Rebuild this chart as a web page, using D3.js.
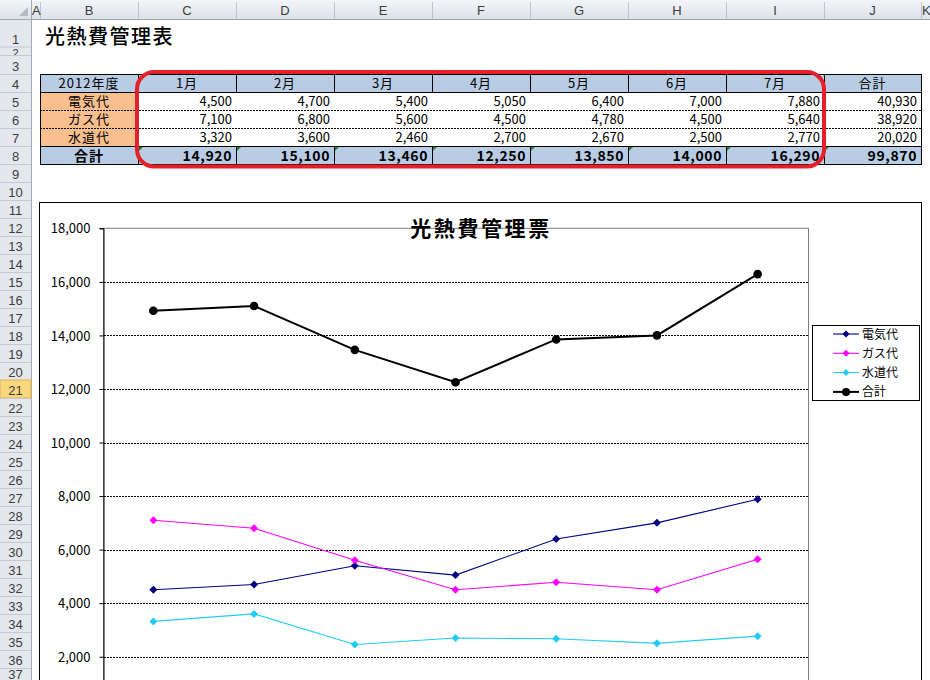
<!DOCTYPE html>
<html><head><meta charset="utf-8">
<script src="https://cdn.jsdelivr.net/npm/d3@7"></script>
<style>
html,body{margin:0;padding:0;background:#fff;}
svg{display:block;font-family:"Noto Sans CJK JP","Noto Sans",sans-serif;}
</style></head>
<body>
<svg id="c" width="930" height="680"></svg>
<script>
// ---------- data ----------
const colLetters = ["A","B","C","D","E","F","G","H","I","J","K"];
const months = ["1月","2月","3月","4月","5月","6月","7月"];
const yearLabel = "2012年度";
const rowLabels = ["電気代","ガス代","水道代"];
const electricity = [4500,4700,5400,5050,6400,7000,7880];
const gas = [7100,6800,5600,4500,4780,4500,5640];
const water = [3320,3600,2460,2700,2670,2500,2770];
const totals = [14920,15100,13460,12250,13850,14000,16290];
const rowTotals = [40930,38920,20020];
const grandTotal = 99870;
const totalLabel = "合計";
const sheetTitle = "光熱費管理表";
const chartTitle = "光熱費管理票";
const yTicks = [2000,4000,6000,8000,10000,12000,14000,16000,18000];
const seriesNames = ["電気代","ガス代","水道代","合計"];
const seriesColors = ["#000080","#FF00FF","#22CCF2","#000000"];

const fmt = d3.format(",");
const svg = d3.select("#c");
const defs = svg.append("defs");

// ---------- sheet geometry ----------
const colEdges = [31,40,138,236,334,432,530,628,726,824,921,940];
const rowTops = [19,46.5,55,74];
for (let r=4; r<=38; r++) rowTops.push(74+(r-3)*18);
function rTop(r){return rowTops[r-1];}
function rBot(r){return rowTops[r];}

svg.append("rect").attr("x",0).attr("y",0).attr("width",930).attr("height",680).attr("fill","#fff");

const hdrGrad = defs.append("linearGradient").attr("id","hg").attr("x1",0).attr("y1",0).attr("x2",0).attr("y2",1);
hdrGrad.append("stop").attr("offset","0").attr("stop-color","#F3F5F8");
hdrGrad.append("stop").attr("offset","1").attr("stop-color","#DDE2E8");
svg.append("rect").attr("x",0).attr("y",0).attr("width",930).attr("height",19).attr("fill","url(#hg)");
svg.append("rect").attr("x",0).attr("y",19).attr("width",31).attr("height",680).attr("fill","#E4E8ED");
svg.append("path").attr("d","M19,16 L28,16 L28,7 Z").attr("fill","#B5BBC4");
colLetters.forEach((c,i)=>{
  const x0=colEdges[i], x1=colEdges[i+1];
  svg.append("line").attr("x1",x1+0.5).attr("x2",x1+0.5).attr("y1",2).attr("y2",19).attr("stroke","#BCC4CF");
  svg.append("text").attr("x", (i===0||i===10) ? x0+1 : (x0+x1)/2).attr("y",15)
    .attr("text-anchor", (i===0||i===10)?"start":"middle")
    .attr("font-size",13).attr("fill","#3C3C3C").attr("font-family","Liberation Sans, sans-serif").text(c);
});
svg.append("line").attr("x1",0).attr("x2",930).attr("y1",19.5).attr("y2",19.5).attr("stroke","#9EAAB8");
svg.append("line").attr("x1",31.5).attr("x2",31.5).attr("y1",0).attr("y2",680).attr("stroke","#9EAAB8");
defs.append("clipPath").attr("id","r2clip").append("rect").attr("x",0).attr("y",rTop(2)+1).attr("width",31).attr("height",rBot(2)-rTop(2)-1);
for (let r=1; r<=37; r++){
  const t=rTop(r), b=rBot(r);
  if (r===21){
    svg.append("rect").attr("x",0).attr("y",t).attr("width",31).attr("height",b-t).attr("fill","#F9D77E").attr("stroke","#E5B04C");
  }
  svg.append("line").attr("x1",0).attr("x2",31).attr("y1",b+0.5).attr("y2",b+0.5).attr("stroke","#C2CAD4");
  const tx = svg.append("text").attr("x",15.5).attr("y", r===2 ? b+1.5 : Math.min(b-3, 679)).attr("text-anchor","middle")
    .attr("font-size", r===2 ? 11 : 13).attr("fill","#3C3C3C").attr("font-family","Liberation Sans, sans-serif")
    .text(r);
  if (r===2) tx.attr("clip-path","url(#r2clip)");
}

svg.append("text").attr("x",45).attr("y",44).attr("font-size",20).attr("font-weight",500).attr("letter-spacing",1.5).attr("fill","#000").text(sheetTitle);

// ---------- table ----------
const tbl = svg.append("g");
const cx = i => colEdges[i];
const blue = "#B8CCE4", orange = "#FABF8F";
tbl.append("rect").attr("x",cx(1)).attr("y",rTop(4)).attr("width",cx(10)-cx(1)).attr("height",18).attr("fill",blue);
tbl.append("rect").attr("x",cx(1)).attr("y",rTop(8)).attr("width",cx(10)-cx(1)).attr("height",18).attr("fill",blue);
tbl.append("rect").attr("x",cx(1)).attr("y",rTop(5)).attr("width",cx(2)-cx(1)).attr("height",54).attr("fill",orange);

const headers = [yearLabel].concat(months).concat([totalLabel]);
headers.forEach((h,i)=>{
  tbl.append("text").attr("x",(cx(i+1)+cx(i+2))/2).attr("y",rBot(4)-4).attr("text-anchor","middle")
    .attr("font-size",13).attr("letter-spacing",1).text(h);
});
const seriesRows = [electricity,gas,water];
seriesRows.forEach((vals,ri)=>{
  const r = 5+ri;
  tbl.append("text").attr("x",(cx(1)+cx(2))/2).attr("y",rBot(r)-4).attr("text-anchor","middle").attr("font-size",13).attr("letter-spacing",1).text(rowLabels[ri]);
  vals.forEach((v,j)=>{
    tbl.append("text").attr("x",cx(j+3)-4).attr("y",rBot(r)-4).attr("text-anchor","end").attr("font-size",13).text(fmt(v));
  });
  tbl.append("text").attr("x",cx(10)-4).attr("y",rBot(r)-4).attr("text-anchor","end").attr("font-size",13).text(fmt(rowTotals[ri]));
});
tbl.append("text").attr("x",(cx(1)+cx(2))/2).attr("y",rBot(8)-3).attr("text-anchor","middle").attr("font-size",14).attr("font-weight","bold").attr("letter-spacing",1).text(totalLabel);
totals.concat([grandTotal]).forEach((v,j)=>{
  tbl.append("text").attr("x",cx(j+3)-4).attr("y",rBot(8)-3).attr("text-anchor","end").attr("font-size",14).attr("font-weight","bold").attr("letter-spacing",0.6).text(fmt(v));
  tbl.append("path").attr("d",`M${cx(j+2)+1},${rTop(8)+1} l4,0 l-4,4 Z`).attr("fill","#1E8A2E");
});
const bk = "#000";
tbl.append("rect").attr("x",cx(1)+0.5).attr("y",rTop(4)+0.5).attr("width",cx(10)-cx(1)).attr("height",90).attr("fill","none").attr("stroke",bk);
[rBot(4), rBot(7)].forEach(y=>tbl.append("line").attr("x1",cx(1)).attr("x2",cx(10)).attr("y1",y+0.5).attr("y2",y+0.5).attr("stroke",bk));
[rBot(5), rBot(6)].forEach(y=>tbl.append("line").attr("x1",cx(1)).attr("x2",cx(10)).attr("y1",y+0.5).attr("y2",y+0.5).attr("stroke",bk).attr("stroke-dasharray","2,1"));
for (let i=2;i<=9;i++){
  [4,8].forEach(r=>tbl.append("line").attr("x1",cx(i)+0.5).attr("x2",cx(i)+0.5).attr("y1",rTop(r)).attr("y2",rBot(r)).attr("stroke",bk));
}
[2,9].forEach(i=>tbl.append("line").attr("x1",cx(i)+0.5).attr("x2",cx(i)+0.5).attr("y1",rTop(4)).attr("y2",rBot(8)).attr("stroke",bk));
tbl.append("rect").attr("x",137).attr("y",72).attr("width",687).attr("height",94.5).attr("rx",17).attr("ry",17)
  .attr("fill","none").attr("stroke","#E4202A").attr("stroke-width",4);

// ---------- chart ----------
const chart = svg.append("g");
chart.append("rect").attr("x",39.5).attr("y",202.5).attr("width",882).attr("height",520).attr("fill","#fff").attr("stroke","#000");

const x = d3.scaleBand().domain(months).range([103,808]);
const y = d3.scaleLinear().domain([0,18000]).range([710.3,228.3]);

chart.append("rect").attr("x",103.5).attr("y",y(18000)).attr("width",705).attr("height",y(0)-y(18000)).attr("fill","none").attr("stroke","#808080");
chart.append("g").selectAll("line").data(yTicks.filter(t=>t<18000)).join("line")
  .attr("x1",104).attr("x2",808).attr("y1",d=>Math.round(y(d))+0.5).attr("y2",d=>Math.round(y(d))+0.5)
  .attr("stroke","#000").attr("stroke-dasharray","2,1");
const yAxis = d3.axisLeft(y).tickValues(yTicks).tickSize(4).tickPadding(9).tickFormat(fmt);
const ag = chart.append("g").attr("transform","translate(103.5,0)").call(yAxis);
ag.select(".domain").attr("stroke","#000");
ag.selectAll(".tick line").attr("stroke","#000");
ag.selectAll(".tick text").attr("font-size",13).attr("fill","#000").attr("font-family","Noto Sans CJK JP, sans-serif").attr("dy","0.36em");
chart.append("text").attr("x",481).attr("y",236).attr("text-anchor","middle").attr("font-size",21).attr("font-weight","bold").attr("letter-spacing",2.6).text(chartTitle);

const allSeries = [electricity,gas,water,totals];
const line = d3.line().x((d,i)=>x(months[i])+x.bandwidth()/2).y(d=>y(d));
const diamondPath = "M0,-4L4,0L0,4L-4,0Z";
allSeries.forEach((vals,si)=>{
  const col = seriesColors[si];
  chart.append("path").datum(vals).attr("d",line).attr("fill","none").attr("stroke",col).attr("stroke-width", si===3?2:1.1);
  const g = chart.append("g");
  vals.forEach((v,i)=>{
    const px = x(months[i])+x.bandwidth()/2, py = y(v);
    if (si===3) g.append("circle").attr("cx",px).attr("cy",py).attr("r",4.3).attr("fill",col);
    else g.append("path").attr("d",diamondPath).attr("transform",`translate(${px},${py})`).attr("fill",col);
  });
});

const lg = chart.append("g");
lg.append("rect").attr("x",812.5).attr("y",325.5).attr("width",107).attr("height",75).attr("fill","#fff").attr("stroke","#000");
seriesNames.forEach((n,i)=>{
  const ly = 334 + i*19.3;
  lg.append("line").attr("x1",833).attr("x2",859).attr("y1",ly).attr("y2",ly).attr("stroke",seriesColors[i]).attr("stroke-width",i===3?2:1.1);
  if (i===3) lg.append("circle").attr("cx",846).attr("cy",ly).attr("r",4).attr("fill",seriesColors[i]);
  else lg.append("path").attr("d","M0,-3.5L3.5,0L0,3.5L-3.5,0Z").attr("transform",`translate(846,${ly})`).attr("fill",seriesColors[i]);
  lg.append("text").attr("x",862).attr("y",ly+4.5).attr("font-size",12).text(n);
});
</script>
</body></html>
